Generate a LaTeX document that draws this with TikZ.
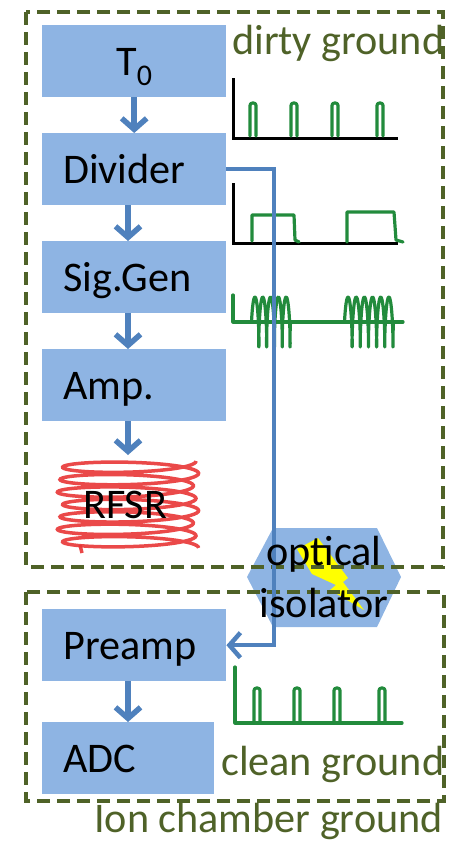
\documentclass[tikz,border=0pt]{standalone}
\usepackage{fontspec}
\setmainfont{Carlito}
\usetikzlibrary{arrows.meta}
\definecolor{boxblue}{HTML}{8EB4E3}
\definecolor{linkblue}{HTML}{4F81BD}
\definecolor{olive}{HTML}{4F6228}
\definecolor{wavegreen}{HTML}{228B3C}
\definecolor{coilred}{HTML}{E83535}
\definecolor{boltyellow}{HTML}{FFFF00}

\begin{document}
\begin{tikzpicture}[x=1pt,y=-1pt,
  big/.style={font=\fontsize{42.2}{52}\selectfont},
  stage/.style={big, fill=boxblue, minimum width=184pt, minimum height=72pt,
    anchor=north west, text width=142pt, align=left, inner xsep=21pt,
    inner ysep=0pt, text height=28pt, text depth=0pt},
  flow/.style={draw=linkblue, line width=5.5pt,
    -{Straight Barb[length=11pt,width=25pt]}},
  link/.style={draw=linkblue, line width=4.5pt,
    -{Straight Barb[length=11pt,width=25pt]}},
  gnd/.style={draw=olive, line width=4pt, dash pattern=on 13pt off 7pt},
  gndtext/.style={big, text=olive, inner sep=0pt},
  wave/.style={draw=wavegreen, line width=3.2pt, line join=round, line cap=round},
  pulse/.style={wave, rounded corners=2.5pt},
  axisline/.style={draw=black, line width=3pt},
  coilline/.style={draw=coilred, line width=3.5pt, opacity=0.9}]

\useasboundingbox (0,0) rectangle (461,847);

% optical isolator body and spark
\fill[boxblue] (247,577) -- (273,528) -- (377,528) -- (401,577)
  -- (377,627) -- (273,627) -- cycle;
\fill[boltyellow] (297,549) -- (318,538) -- (336,562) -- (348,578)
  -- (343,582) -- (364,610) -- (330,590) -- (336,585) -- (312,574) -- cycle;

% ground domains
\draw[gnd] (26,12) rectangle (443,567);
\draw[gnd] (26,592) rectangle (444,801);

% signal chain
\node[stage, align=center] (t0) at (42,25)
  {T\raisebox{-10pt}{\fontsize{30}{32}\selectfont 0}};
\node[stage] (div) at (42,133) {Divider};
\node[stage] (sig) at (42,241) {Sig.Gen};
\node[stage] (amp) at (42,349) {Amp.};
\node[stage] (pre) at (42,609) {Preamp};
\node[stage, minimum width=172pt, text width=130pt] (adc) at (42,722) {ADC};

% RF coil
\coordinate (coil) at (128,455);
\draw[coilline] plot[domain=0:2520, samples=360, smooth]
  ({128+68*cos(\x)+3*sin(\x/3)}, {461+\x*0.0345+8*sin(\x)});
\draw[coilline] (82,553) -- (80,545);
\node[big, inner sep=0pt, anchor=base west] (rfsr) at (83,518) {RFSR};

% vertical line of the chain arrows
\coordinate (chain) at (128,0);
\draw[flow] (t0.south) -- (div.north);
\draw[flow] (div.south -| chain) -- (sig.north -| chain);
\draw[flow] (sig.south -| chain) -- (amp.north -| chain);
\draw[flow] (amp.south -| chain) -- (coil -| chain);
\draw[flow] (pre.south -| chain) -- (adc.north -| chain);

% clock pulses
\draw[axisline] (233,78) -- (233,138) -- (398,138);
\foreach \c in {253,294,335,380}
  \draw[pulse] (\c-3,136) -- (\c-3,103) -- (\c+3,103) -- (\c+3,136);

% divided gate
\draw[axisline] (233,183) -- (233,243) -- (398,243);
\draw[wave] (252,241) -- (252,215) -- (294,215) -- (295,240) -- (299,242);
\draw[wave] (347,242) -- (347,212) -- (394,212) -- (396,240) -- (403,242);

% RF bursts
\draw[wave] (233,295) -- (233,322) -- (403,322);
\draw[wave] plot[domain=0:1800, samples=150, smooth]
  ({253+\x/1800*39-1.5*cos(\x)}, {322-25*sin(\x)});
\draw[wave] plot[domain=0:2160, samples=180, smooth]
  ({346+\x/2160*49-1.5*cos(\x)}, {322-25*sin(\x)});

% recovered pulses
\draw[wave] (235,667) -- (235,723) -- (402,723);
\foreach \c in {257,297,337,382}
  \draw[pulse] (\c-3,721) -- (\c-3,688) -- (\c+3,688) -- (\c+3,721);

% isolated timing path
\coordinate (riser) at (274,400);
\draw[link] (div.east) -| (riser) |- (pre.east);

\node[big, align=center, inner sep=0pt] (iso) at (324,577) {optical\\isolator};

% domain labels
\node[gndtext, anchor=base west] (dirty) at (232,54) {dirty ground};
\node[gndtext, anchor=base west] (clean) at (221,775) {clean ground};
\node[gndtext, anchor=base east] (ion) at (443,832) {Ion chamber ground};
\end{tikzpicture}
\end{document}
